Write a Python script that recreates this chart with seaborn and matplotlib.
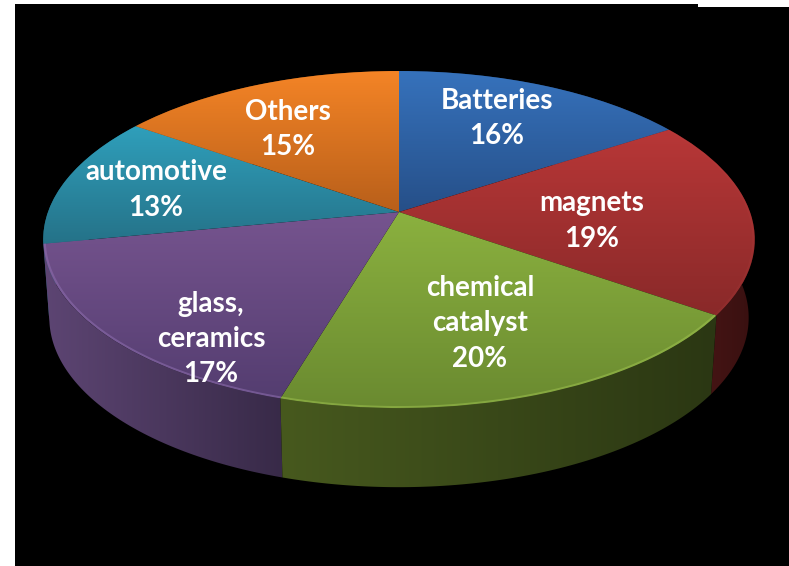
import numpy as np
import matplotlib
matplotlib.use("Agg")
import matplotlib.pyplot as plt
import seaborn as sns
from matplotlib.colors import LinearSegmentedColormap
from matplotlib.patches import Polygon, Rectangle
from matplotlib.transforms import Transform

categories = ["Batteries", "magnets", "chemical\ncatalyst", "glass,\nceramics", "automotive", "Others"]
shares = [15.8, 18.9, 19.9, 17.4, 12.7, 15.3]
percent_labels = ["16%", "19%", "20%", "17%", "13%", "15%"]

top_colors = [("#3672bc", "#264f88"), ("#b83737", "#892929"), ("#8bb13f", "#6a8a30"),
              ("#76548f", "#543d70"), ("#2f9fbb", "#257288"), ("#f48426", "#b85f1a")]
wall_colors = [("#1d3659", "#1d3659"), ("#521818", "#381010"), ("#47591e", "#2b3713"),
               ("#5d4573", "#382a48"), ("#1c6074", "#1c6074"), ("#7a4212", "#7a4212")]
rim_colors = ["#5a8ad0", "#c04848", "#a0c450", "#8f6fb0", "#45b5d0", "#ffa040"]
rim_alpha = [0, 0.12, 0.5, 0.55, 0, 0]
label_xy = [(497, 118.5), (592, 221), (480, 323.5), (211, 339), (156, 190), (288, 129.5)]

W, H = 789, 566
CX, CY, A, B, P = 399.0, 212.0, 351.0, 164.0, 0.1632
CX2, CY2, A2, B2 = 399.0, 290.0, 345.0, 165.0


class Perspective(Transform):
    input_dims = output_dims = 2
    def __init__(self, cx, cy, a, b, p):
        super().__init__()
        self.v = (cx, cy, a, b, p)
    def transform_non_affine(self, xy):
        xy = np.asarray(xy, float)
        cx, cy, a, b, p = self.v
        s = 1 / (1 + p * xy[:, 1])
        return np.c_[cx + a * xy[:, 0] * s, cy - b * xy[:, 1] * s]


top_proj = Perspective(CX, CY, A, B, P)
bot_proj = Perspective(CX2, CY2, A2, B2, P)


def circle(t):
    return np.c_[np.sin(t), np.cos(t)]


def gradient(ax, clip, c0, c1, extent, horizontal=False, z=1):
    cmap = LinearSegmentedColormap.from_list("g", [c0, c1])
    g = np.linspace(0, 1, 256)
    g = g[None, :] if horizontal else g[:, None]
    im = ax.imshow(g, cmap=cmap, extent=extent, aspect="auto", zorder=z,
                   interpolation="bilinear", vmin=0, vmax=1)
    im.set_clip_path(clip)


sns.set_theme(style="white")
fig = plt.figure(figsize=(W / 100, H / 100), dpi=100, facecolor="white")
ax = fig.add_axes([0, 0, 1, 1])

wedges, _ = ax.pie(shares, startangle=90, counterclock=False, radius=1, center=(0, 0), normalize=True)
ax.set_aspect("auto")
ax.set_xlim(0, W)
ax.set_ylim(H, 0)
ax.axis("off")

ax.add_patch(Rectangle((15, 4), 683, H, fc="black", ec="none", zorder=0))
ax.add_patch(Rectangle((697, 7), W - 697, H, fc="black", ec="none", zorder=0))

edges = np.deg2rad(np.r_[0, np.cumsum(shares)] * 3.6)
order = np.argsort([np.cos((edges[i] + edges[i + 1]) / 2) for i in range(6)])[::-1]
for rank, i in enumerate(order):
    t = np.linspace(edges[i], edges[i + 1], 80)
    upper = top_proj.transform_non_affine(circle(t))
    lower = bot_proj.transform_non_affine(circle(t))
    poly = Polygon(np.r_[upper, lower[::-1]], closed=True, fc="none", ec="none",
                   transform=ax.transData, zorder=1)
    ax.add_patch(poly)
    x0, x1 = np.r_[upper, lower][:, 0].min(), np.r_[upper, lower][:, 0].max()
    gradient(ax, poly, *wall_colors[i], (x0, x1, 566, 0), horizontal=True, z=1 + rank * 0.01)

for i, w in enumerate(wedges):
    w.set_transform(top_proj + ax.transData)
    w.set_facecolor("none")
    w.set_edgecolor("none")
    w.set_zorder(2)
    t = np.linspace(edges[i], edges[i + 1], 80)
    pts = top_proj.transform_non_affine(np.r_[circle(t), [[0, 0]]])
    y0, y1 = pts[:, 1].min(), pts[:, 1].max()
    gradient(ax, w, *top_colors[i], (0, W, y1, y0), z=2)
    if rim_alpha[i] > 0:
        inner = top_proj.transform_non_affine(circle(t) * 0.996)
        ax.plot(inner[:, 0], inner[:, 1], color=rim_colors[i], lw=1.5, alpha=rim_alpha[i],
                zorder=2.5, solid_capstyle="butt")

for name, pct, (x, y) in zip(categories, percent_labels, label_xy):
    ax.text(x, y, f"{name}\n{pct}", color="white", ha="center", va="center",
            family="Lato", weight="bold", fontsize=20, linespacing=1.44, zorder=5)

fig.savefig("out.png", dpi=100, facecolor="white")
